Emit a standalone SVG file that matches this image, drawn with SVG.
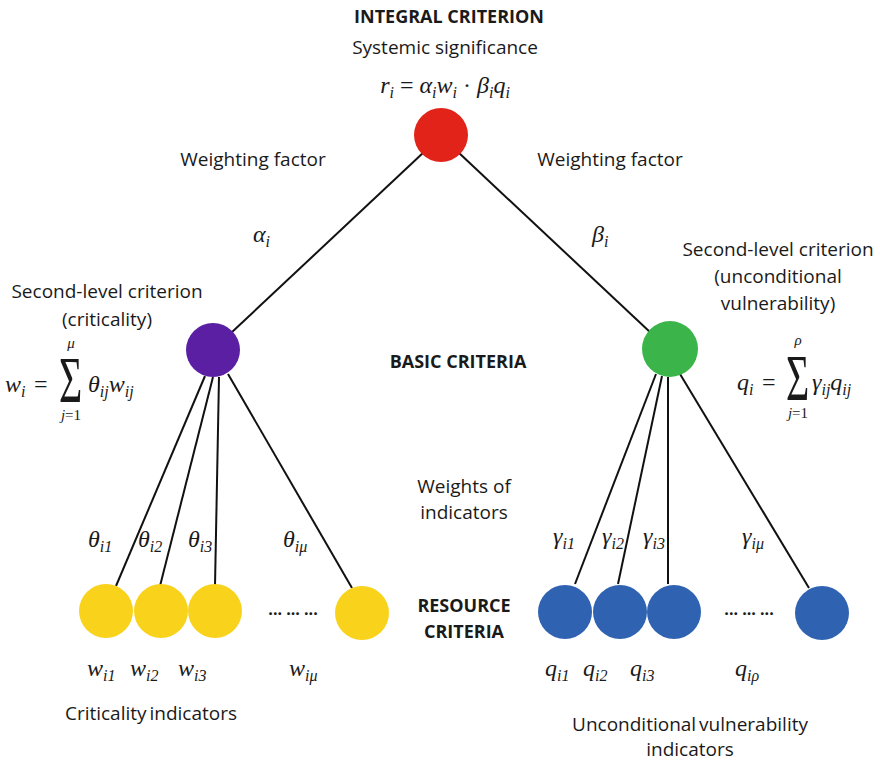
<svg xmlns="http://www.w3.org/2000/svg" width="880" height="761" viewBox="0 0 880 761">
<style>
.t{font-family:"Open Sans","Liberation Sans",sans-serif;font-size:19px;fill:#1a1a1a;text-anchor:middle}
.b{font-weight:bold;font-size:18px}
.d{font-weight:bold;font-size:16px}
.m{font-family:"Liberation Serif","DejaVu Serif",serif;font-style:italic;font-size:24px;fill:#1a1a1a}
.s{font-size:16px}
.l{font-size:15px}
.n{font-style:normal}
.g{font-family:"Liberation Serif","DejaVu Serif",serif;font-size:38px;fill:#1a1a1a}
.e{stroke:#111;stroke-width:2;fill:none}
</style>
<rect width="880" height="761" fill="#fff"/>
<g id="connectors">
<line class="e" x1="424" y1="152" x2="231" y2="333"/>
<line class="e" x1="458" y1="152" x2="651" y2="333"/>
<line class="e" x1="205" y1="376" x2="116" y2="586"/>
<line class="e" x1="213" y1="377" x2="160" y2="586"/>
<line class="e" x1="219" y1="377" x2="215" y2="586"/>
<line class="e" x1="228" y1="374" x2="352" y2="588"/>
<line class="e" x1="656" y1="374" x2="575" y2="584"/>
<line class="e" x1="662" y1="376" x2="618" y2="584"/>
<line class="e" x1="668" y1="377" x2="668" y2="584"/>
<line class="e" x1="680" y1="374" x2="809" y2="588"/>
</g>
<g id="integral">
<circle cx="441" cy="135" r="27" fill="#e2231a"/>
<text class="t b" x="449" y="23">INTEGRAL CRITERION</text>
<text class="t" x="445" y="54">Systemic significance</text>
<text class="m" x="445" y="93" text-anchor="middle">r<tspan class="s" dy="5">i</tspan><tspan dy="-5" class="n"> = </tspan><tspan>α</tspan><tspan class="s" dy="5">i</tspan><tspan dy="-5">w</tspan><tspan class="s" dy="5">i</tspan><tspan dy="-5" class="n"> · </tspan><tspan>β</tspan><tspan class="s" dy="5">i</tspan><tspan dy="-5">q</tspan><tspan class="s" dy="5">i</tspan></text>
</g>
<g id="weights-top">
<text class="t" x="253" y="166">Weighting factor</text>
<text class="t" x="610" y="166">Weighting factor</text>
<text class="m" x="253" y="242">α<tspan class="s" dy="5">i</tspan></text>
<text class="m" x="592" y="242">β<tspan class="s" dy="5">i</tspan></text>
</g>
<g id="criticality">
<circle cx="213" cy="350" r="27" fill="#5a1fa3"/>
<text class="t" x="107" y="298">Second-level criterion</text>
<text class="t" x="107" y="326">(criticality)</text>
<text class="m" x="5" y="392">w<tspan class="s" dy="5">i</tspan></text>
<text class="m n" x="34" y="392">=</text>
<text class="g" transform="translate(59,402) scale(1.05,1.7)">Σ</text>
<text class="m l" x="71" y="348" text-anchor="middle">μ</text>
<text class="m l" x="71" y="420" text-anchor="middle">j<tspan class="n">=1</tspan></text>
<text class="m" x="88" y="392">θ<tspan class="s" dy="5">ij</tspan><tspan dy="-5">w</tspan><tspan class="s" dy="5">ij</tspan></text>
</g>
<g id="basic">
<text class="t b" x="458" y="368">BASIC CRITERIA</text>
</g>
<g id="vulnerability">
<circle cx="670" cy="349" r="28" fill="#3bb54a"/>
<text class="t" x="778" y="256">Second-level criterion</text>
<text class="t" x="778" y="283">(unconditional</text>
<text class="t" x="778" y="310">vulnerability)</text>
<text class="m" x="737" y="390">q<tspan class="s" dy="5">i</tspan></text>
<text class="m n" x="762" y="390">=</text>
<text class="g" transform="translate(786,400) scale(1.05,1.7)">Σ</text>
<text class="m l" x="798" y="345" text-anchor="middle">ρ</text>
<text class="m l" x="798" y="418" text-anchor="middle">j<tspan class="n">=1</tspan></text>
<text class="m" x="812" y="390">γ<tspan class="s" dy="5">ij</tspan><tspan dy="-5">q</tspan><tspan class="s" dy="5">ij</tspan></text>
</g>
<g id="weights-indicators">
<text class="t" x="464" y="493">Weights of</text>
<text class="t" x="464" y="519">indicators</text>
<text class="m" x="88" y="547">θ<tspan class="s" dy="5">i1</tspan></text>
<text class="m" x="138" y="547">θ<tspan class="s" dy="5">i2</tspan></text>
<text class="m" x="188" y="547">θ<tspan class="s" dy="5">i3</tspan></text>
<text class="m" x="283" y="547">θ<tspan class="s" dy="5">iμ</tspan></text>
<text class="m" x="553" y="544">γ<tspan class="s" dy="5">i1</tspan></text>
<text class="m" x="602" y="544">γ<tspan class="s" dy="5">i2</tspan></text>
<text class="m" x="643" y="544">γ<tspan class="s" dy="5">i3</tspan></text>
<text class="m" x="742" y="544">γ<tspan class="s" dy="5">iμ</tspan></text>
</g>
<g id="resource">
<text class="t b" x="464" y="612">RESOURCE</text>
<text class="t b" x="464" y="638">CRITERIA</text>
</g>
<g id="yellow-nodes" fill="#f9d21b">
<circle cx="106" cy="611" r="27"/>
<circle cx="161" cy="611" r="27"/>
<circle cx="215" cy="611" r="27"/>
<circle cx="362" cy="613" r="27"/>
<text class="t d" x="293" y="615">... ... ...</text>
</g>
<g id="blue-nodes" fill="#2f63b2">
<circle cx="565" cy="612" r="27"/>
<circle cx="620" cy="612" r="27"/>
<circle cx="674" cy="612" r="27"/>
<circle cx="822" cy="613" r="27"/>
<text class="t d" x="749" y="615">... ... ...</text>
</g>
<g id="w-labels">
<text class="m" x="87" y="676">w<tspan class="s" dy="5">i1</tspan></text>
<text class="m" x="130" y="676">w<tspan class="s" dy="5">i2</tspan></text>
<text class="m" x="178" y="676">w<tspan class="s" dy="5">i3</tspan></text>
<text class="m" x="289" y="676">w<tspan class="s" dy="5">iμ</tspan></text>
<text class="t" x="151" y="720" style="word-spacing:-2px">Criticality indicators</text>
</g>
<g id="q-labels">
<text class="m" x="545" y="676">q<tspan class="s" dy="5">i1</tspan></text>
<text class="m" x="583" y="676">q<tspan class="s" dy="5">i2</tspan></text>
<text class="m" x="630" y="676">q<tspan class="s" dy="5">i3</tspan></text>
<text class="m" x="735" y="676">q<tspan class="s" dy="5">iρ</tspan></text>
<text class="t" x="690" y="731" style="word-spacing:-2px">Unconditional vulnerability</text>
<text class="t" x="690" y="756">indicators</text>
</g>
</svg>
